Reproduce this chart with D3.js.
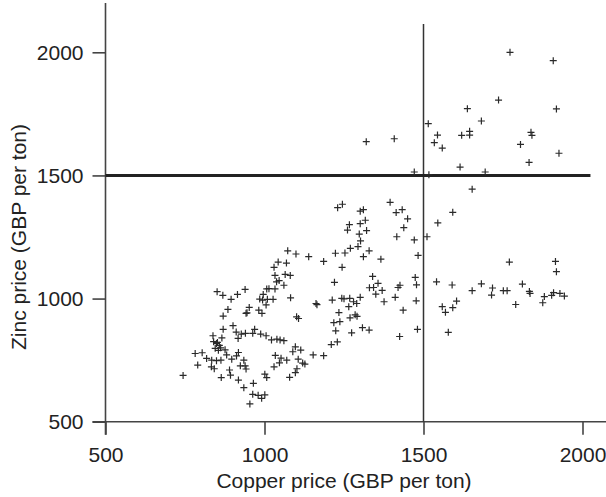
<!DOCTYPE html>
<html>
<head>
<meta charset="utf-8">
<script src="https://cdn.jsdelivr.net/npm/d3@7"></script>
<style>
  html, body { margin: 0; padding: 0; background: #fff; }
  svg { display: block; }
  text { font-family: "Liberation Sans", Arial, Helvetica, sans-serif; fill: #222; }
</style>
</head>
<body>
<script>
// Monthly copper and zinc prices (GBP per ton)
const copper = [
  1772, 1908, 1736, 1638, 1918, 1682, 1515, 1408, 1320, 1544, 1534, 1559, 1620, 1645, 1645,
  1805, 1838, 1841, 1926, 1832, 1615, 1471, 1517, 1694, 1653,
  1395, 1414, 1433, 1450, 1438, 1416, 1471, 1592, 1545, 1511, 1483,
  1230, 1245, 1301, 1311, 1317, 1301, 1267, 1261, 1321, 1298, 1302, 1294, 1270, 1329, 1311,
  1253, 1223, 1366, 1186, 1244, 1139, 1220, 1340, 1357, 1343, 1330, 1350, 1370, 1376, 1420,
  1426, 1411, 1436, 1474, 1478, 1477, 1481, 1425, 1213, 1243, 1250, 1268, 1280, 1301, 1290,
  1265, 1234, 1285, 1291, 1269, 1237, 1218, 1224, 1308, 1329, 1274, 1210, 1229, 1186, 1153,
  1073, 1099, 1030, 1043, 1069, 1033, 1065, 1081, 1038, 1046, 1061, 1014, 1007, 1033, 996,
  1009, 1027, 1082, 985, 994, 1005, 992, 982, 952, 942, 939, 915, 895, 885, 851, 869, 870,
  870, 901, 911, 917, 927, 940, 963, 969, 988, 1005, 1022, 1039, 1061, 838, 840, 845, 849,
  858, 866, 782, 804, 818, 834, 849, 863, 833, 842, 790, 881, 897, 912, 918, 935, 924, 939,
  942, 890, 893, 918, 864, 744, 935, 965, 954, 963, 980, 991, 1001, 1001, 1007, 1030, 1034,
  1047, 1052, 1070, 1079, 1097, 1102, 1106, 1089, 1097, 1114, 1120, 1127, 1049,
  1541, 1590, 1682, 1653, 1717, 1714, 1751, 1763, 1811, 1833, 1835, 1770, 1915, 1918, 1790,
  1875, 1880, 1903, 1909, 1929, 1943, 1604, 1592, 1559, 1569, 1578,
  855, 862, 876, 852, 1101, 1107, 945, 1162, 1165
];
const zinc = [
  2000, 1966, 1806, 1771, 1770, 1721, 1710, 1649, 1637, 1664, 1633, 1611, 1663, 1679, 1664,
  1626, 1675, 1663, 1590, 1553, 1534, 1514, 1503, 1514, 1444,
  1391, 1349, 1361, 1324, 1288, 1251, 1238, 1350, 1307, 1251, 1175,
  1369, 1383, 1355, 1361, 1318, 1304, 1300, 1278, 1276, 1262, 1234, 1211, 1204, 1194, 1170,
  1185, 1184, 1160, 1151, 1127, 1170, 1066, 1090, 1062, 1045, 1044, 1018, 1033, 987, 1045,
  1054, 1005, 953, 1086, 1056, 991, 875, 846, 994, 1001, 999, 1001, 987, 1005, 980,
  967, 943, 934, 928, 922, 906, 902, 869, 882, 872, 861, 813, 824, 768, 771,
  1194, 1181, 1127, 1148, 1144, 1094, 1098, 1094, 1068, 1073, 1054, 1040, 1039, 1039, 1017,
  997, 997, 1003, 998, 994, 974, 940, 953, 964, 940, 1037, 1017, 997, 956, 1028, 1013, 929,
  875, 890, 864, 838, 856, 859, 859, 875, 856, 849, 832, 835, 829, 849, 825, 798, 818,
  810, 840, 777, 780, 757, 750, 748, 750, 723, 715, 730, 771, 754, 767, 781, 750, 727, 727,
  714, 710, 689, 669, 679, 688, 638, 656, 572, 611, 607, 595, 609, 693, 679, 723, 769,
  739, 758, 750, 680, 699, 715, 754, 784, 804, 791, 738, 734, 832,
  1068, 1055, 1060, 1032, 1043, 1014, 1032, 1032, 1059, 1029, 1021, 1148, 1151, 1109, 976,
  983, 1008, 1013, 1024, 1021, 1010, 990, 963, 967, 944, 863,
  790, 800, 792, 822, 926, 919, 942, 980, 975
];

const xTicks = [500, 1000, 1500, 2000];
const yTicks = [500, 1000, 1500, 2000];
const xTitle = "Copper price (GBP per ton)";
const yTitle = "Zinc price (GBP per ton)";
const copperRef = 1500;  // vertical reference line
const zincRef = 1500;    // horizontal reference line

const W = 606, H = 497;
const svg = d3.select("body").append("svg").attr("width", W).attr("height", H);

const x = d3.scaleLinear().domain([500, 2000]).range([105.5, 582.5]);
const y = d3.scaleLinear().domain([500, 2000]).range([421.7, 52.3]);

const axisColor = "#444";
const tickLen = 13;
const fontSize = 21;

// Axis lines (each extends past the corner so it doubles as the 500 tick)
svg.append("line")
  .attr("x1", x(500)).attr("x2", x(500))
  .attr("y1", 3).attr("y2", y(500) + tickLen)
  .attr("stroke", axisColor).attr("stroke-width", 1.6);
svg.append("line")
  .attr("x1", x(500) - tickLen).attr("x2", W)
  .attr("y1", y(500)).attr("y2", y(500))
  .attr("stroke", axisColor).attr("stroke-width", 1.6);

// Axes via d3, domain path removed
const gx = svg.append("g").attr("transform", `translate(0,${y(500)})`)
  .call(d3.axisBottom(x).tickValues(xTicks).tickSize(tickLen).tickPadding(12).tickFormat(d3.format("d")));
gx.select(".domain").remove();
gx.selectAll(".tick line").attr("stroke", axisColor).attr("stroke-width", 1.6);
gx.selectAll(".tick text").attr("font-size", fontSize).attr("fill", "#222")
  .style("font-family", "'Liberation Sans', Arial, sans-serif");

const gy = svg.append("g").attr("transform", `translate(${x(500)},0)`)
  .call(d3.axisLeft(y).tickValues(yTicks).tickSize(tickLen).tickPadding(9).tickFormat(d3.format("d")));
gy.select(".domain").remove();
gy.selectAll(".tick line").attr("stroke", axisColor).attr("stroke-width", 1.6);
gy.selectAll(".tick text").attr("font-size", fontSize).attr("fill", "#222")
  .style("font-family", "'Liberation Sans', Arial, sans-serif");

// Axis titles
svg.append("text")
  .attr("x", (x(500) + x(2000)) / 2).attr("y", 488)
  .attr("text-anchor", "middle").attr("font-size", fontSize)
  .text(xTitle);
svg.append("text")
  .attr("transform", `translate(26,${(y(500) + y(2000)) / 2}) rotate(-90)`)
  .attr("text-anchor", "middle").attr("font-size", fontSize)
  .text(yTitle);

// Reference lines
svg.append("line")
  .attr("x1", x(copperRef)).attr("x2", x(copperRef))
  .attr("y1", y(2115)).attr("y2", y(500))
  .attr("stroke", "#333").attr("stroke-width", 1.5);
svg.append("line")
  .attr("x1", x(500)).attr("x2", x(2025))
  .attr("y1", y(zincRef)).attr("y2", y(zincRef))
  .attr("stroke", "#222").attr("stroke-width", 3);

// Scatter of "+" markers
const pts = copper.map((c, i) => [c, zinc[i]]);
const arm = 3.5;
svg.append("g").selectAll("path").data(pts).join("path")
  .attr("d", d => {
    const px = x(d[0]), py = y(d[1]);
    return `M${px - arm},${py}H${px + arm}M${px},${py - arm}V${py + arm}`;
  })
  .attr("stroke", "#2a2a2a").attr("stroke-width", 1.2).attr("fill", "none");
</script>
</body>
</html>
